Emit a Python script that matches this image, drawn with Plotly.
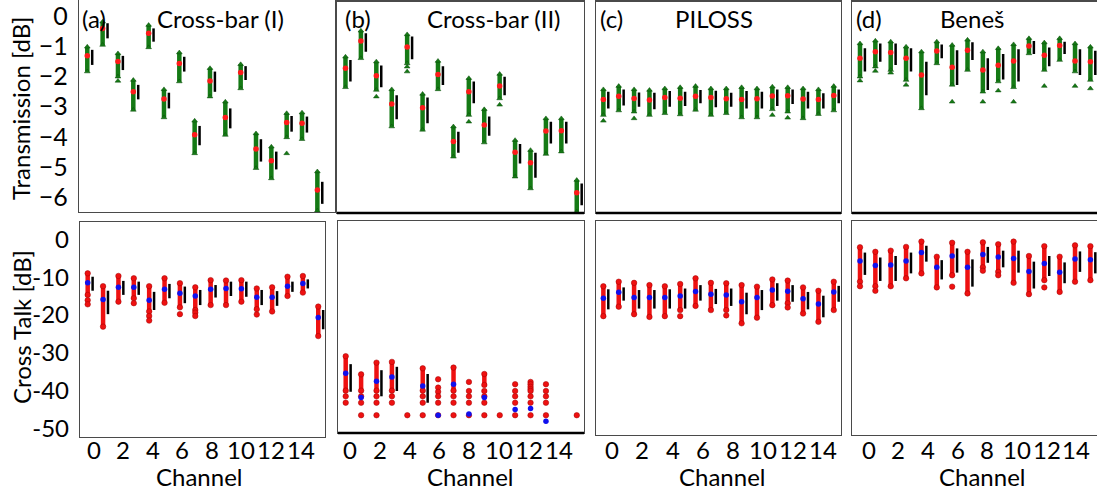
import plotly.graph_objects as go

W, H = 1097, 492
channels = list(range(16))

# ---------------- Transmission [dB] (top row) ----------------
# (a) Cross-bar (I)
ta_mean = [-1.32, -0.41, -1.51, -2.51, -0.57, -2.75, -1.57, -3.93, -2.15, -3.36, -1.87, -4.40, -4.79, -3.53, -3.55, -5.76]
ta_bar_hi = [-1.12, -0.24, -1.32, -2.28, -0.41, -2.54, -1.35, -3.64, -1.84, -3.06, -1.66, -4.08, -4.49, -3.31, -3.33, -5.49]
ta_bar_lo = [-1.62, -0.74, -1.79, -2.76, -0.85, -3.06, -1.84, -4.28, -2.51, -3.72, -2.12, -4.82, -5.08, -3.83, -3.86, -6.22]
ta_hi = [-1.02, -0.19, -1.24, -2.12, -0.30, -2.43, -1.21, -3.47, -1.73, -2.84, -1.60, -3.89, -4.33, -3.22, -3.20, -5.15]
ta_lo = [-1.84, -0.96, -2.01, -3.11, -1.04, -3.36, -2.17, -4.55, -2.67, -3.94, -2.40, -5.04, -5.38, -4.02, -4.08, -6.45]
ta_out = {2: [-2.15], 13: [-4.55]}

# (b) Cross-bar (II)
tb_mean = [-1.73, -0.83, -1.98, -2.91, -1.03, -3.04, -1.94, -4.15, -2.51, -3.61, -2.32, -4.51, -4.86, -3.81, -3.80, -5.85]
tb_bar_hi = [-1.46, -0.57, -1.64, -2.62, -0.68, -2.70, -1.66, -3.83, -2.17, -3.33, -2.01, -4.24, -4.53, -3.50, -3.50, -5.54]
tb_bar_lo = [-2.17, -1.18, -2.36, -3.42, -1.43, -3.55, -2.28, -4.53, -2.89, -3.96, -2.62, -4.88, -5.35, -4.22, -4.22, -6.26]
tb_hi = [-1.35, -0.49, -1.51, -2.43, -0.61, -2.58, -1.49, -3.66, -2.06, -3.09, -1.92, -4.11, -4.44, -3.39, -3.39, -5.43]
tb_lo = [-2.36, -1.40, -2.45, -3.66, -1.57, -3.77, -2.43, -4.66, -3.28, -4.19, -2.73, -5.32, -5.71, -4.57, -4.49, -6.48]
tb_out = {2: [-2.67], 4: [-1.68, -1.84], 8: [-3.50], 10: [-2.94]}

# (c) PILOSS
tc_mean = [-2.76, -2.66, -2.73, -2.78, -2.70, -2.72, -2.66, -2.70, -2.74, -2.76, -2.74, -2.65, -2.64, -2.75, -2.76, -2.63]
tc_bar_hi = [-2.51, -2.43, -2.53, -2.54, -2.48, -2.51, -2.45, -2.47, -2.54, -2.48, -2.51, -2.43, -2.43, -2.51, -2.56, -2.43]
tc_bar_lo = [-3.06, -2.96, -3.00, -3.09, -3.00, -2.98, -2.89, -3.02, -3.00, -3.06, -3.06, -2.98, -2.91, -3.06, -3.06, -2.89]
tc_hi = [-2.43, -2.32, -2.43, -2.45, -2.40, -2.36, -2.32, -2.40, -2.40, -2.36, -2.40, -2.34, -2.36, -2.40, -2.43, -2.32]
tc_lo = [-3.28, -3.13, -3.17, -3.28, -3.22, -3.26, -3.11, -3.28, -3.22, -3.36, -3.36, -3.09, -3.17, -3.39, -3.25, -3.13]
tc_out = {0: [-3.47], 2: [-3.39], 11: [-3.28], 12: [-3.37]}

# (d) Benes
td_mean = [-1.40, -1.18, -1.21, -1.40, -1.95, -1.16, -1.70, -1.13, -1.79, -1.63, -1.49, -0.99, -1.30, -0.98, -1.49, -1.51]
td_bar_hi = [-1.07, -0.91, -0.91, -1.07, -1.51, -0.94, -1.13, -0.87, -1.40, -1.26, -1.10, -0.83, -1.04, -0.85, -1.10, -1.15]
td_bar_lo = [-1.84, -1.51, -1.62, -1.84, -2.62, -1.40, -2.28, -1.46, -2.45, -2.10, -2.17, -1.26, -1.66, -1.26, -1.95, -1.95]
td_hi = [-0.91, -0.82, -0.85, -1.02, -1.18, -0.85, -0.96, -0.79, -1.18, -1.07, -0.94, -0.74, -0.88, -0.74, -0.91, -1.02]
td_lo = [-2.01, -1.68, -1.79, -2.12, -3.06, -1.57, -2.28, -1.79, -2.51, -2.17, -2.36, -1.24, -1.79, -1.46, -1.84, -2.12]
td_out = {0: [-2.14], 1: [-1.82], 2: [-1.88], 3: [-2.28], 6: [-2.84], 8: [-2.84], 9: [-2.47],
          10: [-2.84], 12: [-2.32], 14: [-2.32], 15: [-2.40]}

# ---------------- Cross Talk [dB] (bottom row) ----------------
ba_mean = [-11.5, -15.9, -12.7, -12.7, -16.1, -13.2, -14.3, -15.0, -13.2, -13.0, -13.1, -15.3, -15.3, -12.4, -11.7, -20.7]
ba_bar_hi = [-9.9, -13.6, -11.0, -11.2, -13.9, -11.8, -12.5, -13.4, -12.1, -11.2, -11.2, -13.4, -13.7, -11.2, -10.6, -18.7]
ba_bar_lo = [-13.6, -19.8, -14.7, -14.7, -18.7, -15.6, -16.9, -17.4, -15.4, -15.0, -15.2, -17.4, -17.6, -13.9, -13.0, -23.8]
ba_hi = [-9.0, -12.4, -9.7, -10.3, -12.4, -10.3, -11.6, -12.7, -10.8, -10.9, -10.8, -13.0, -12.7, -9.9, -9.7, -17.8]
ba_lo = [-14.7, -23.1, -16.5, -15.6, -19.1, -16.8, -18.0, -18.7, -17.4, -17.4, -16.5, -18.5, -19.1, -15.0, -14.1, -25.6]
ba_out = {0: [-16.1, -17.2], 3: [-16.9], 4: [-20.3, -21.5], 6: [-19.8], 7: [-19.4, -20.3], 11: [-19.9]}

bb_mean = [-35.4, -41.8, -37.5, -36.4, None, -38.8, -46.5, -38.3, -46.2, -41.8, None, -45.0, -44.7, -48.1, None, None]
bb_bar_hi = [-33.0, None, -34.6, -33.7, None, -35.6, None, None, None, None, None, None, None, None, None, None]
bb_bar_lo = [-40.3, None, -41.5, -40.1, None, -43.2, None, None, None, None, None, None, None, None, None, None]
bb_hi = [-30.9, -35.7, -32.6, -32.4, None, -34.1, None, -33.9, None, -35.6, None, None, None, None, None, None]
bb_lo = [-40.0, -40.0, -40.0, -40.0, None, -40.0, None, -40.0, None, -38.5, None, None, None, None, None, None]
bb_out = {0: [-41.5, -43.2], 1: [-41.5, -43.2, -46.5], 2: [-41.5, -43.2, -46.5], 3: [-41.5, -43.2],
          4: [-46.5], 5: [-41.5, -43.2, -46.5], 6: [-37.0, -39.2, -40.3, -41.5, -43.2, -46.5],
          7: [-41.5, -43.2, -46.5], 8: [-37.7, -40.1, -41.5, -43.2, -46.5], 9: [-40.1, -41.5, -43.2, -46.5],
          10: [-46.5], 11: [-38.3, -40.1, -41.5, -43.2, -46.5],
          12: [-37.7, -38.3, -39.0, -39.6, -40.1, -41.5, -43.2, -46.5],
          13: [-38.3, -40.1, -41.5, -43.2, -46.5], 15: [-46.5]}

bc_mean = [-15.6, -14.0, -15.4, -15.4, -15.4, -15.0, -13.8, -14.5, -14.7, -16.5, -15.4, -13.4, -13.7, -15.7, -17.1, -13.9]
bc_bar_hi = [-13.2, -12.7, -13.4, -13.4, -13.2, -13.0, -12.1, -13.1, -13.0, -14.1, -13.4, -11.6, -12.1, -13.9, -14.9, -12.3]
bc_bar_lo = [-18.5, -16.2, -18.3, -18.3, -18.3, -18.3, -16.2, -17.1, -17.6, -19.8, -18.7, -16.2, -16.5, -18.5, -20.6, -16.5]
bc_hi = [-12.4, -11.2, -11.5, -12.1, -12.4, -11.8, -10.3, -11.5, -11.6, -12.1, -12.5, -10.6, -10.9, -12.7, -13.6, -11.2]
bc_lo = [-20.3, -17.8, -19.8, -20.5, -20.3, -18.7, -17.6, -18.7, -18.7, -22.2, -20.7, -17.4, -16.9, -19.6, -21.8, -18.7]
bc_out = {5: [-20.3], 8: [-20.1], 12: [-18.0]}

bd_mean = [-5.7, -6.9, -6.8, -5.7, -3.5, -7.4, -4.4, -7.4, -4.0, -4.7, -5.1, -8.5, -6.4, -8.7, -5.2, -5.4]
bd_bar_hi = [-3.5, -4.8, -4.4, -3.5, -1.7, -5.5, -2.4, -5.3, -2.0, -3.0, -3.0, -5.9, -4.4, -6.1, -3.2, -3.4]
bd_bar_lo = [-9.4, -11.0, -11.0, -9.0, -5.9, -10.6, -8.8, -12.5, -6.2, -7.4, -8.8, -13.0, -9.7, -11.6, -8.6, -9.0]
bd_hi = [-2.1, -3.3, -3.0, -2.0, -0.6, -4.6, -0.9, -3.3, -0.8, -1.3, -0.6, -4.4, -1.8, -4.6, -1.6, -1.8]
bd_lo = [-11.2, -12.4, -12.4, -10.3, -9.0, -12.7, -9.5, -14.3, -7.4, -8.6, -11.5, -14.5, -10.8, -13.9, -11.2, -10.8]
bd_out = {0: [-12.4], 1: [-13.6], 6: [-12.5], 8: [-8.3], 9: [-9.5], 12: [-12.7]}

titles = ["Cross-bar (I)", "Cross-bar (II)", "PILOSS", "Beneš"]
letters = ["(a)", "(b)", "(c)", "(d)"]
y_top_ticks = [0, -1, -2, -3, -4, -5, -6]
y_top_text = ["0", "−1", "−2", "−3", "−4", "−5", "−6"]
y_bot_ticks = [0, -10, -20, -30, -40, -50]
y_bot_text = ["0", "-10", "-20", "-30", "-40", "-50"]
x_tick_text = ["0", "2", "4", "6", "8", "10", "12", "14"]
# where each panel's channel labels sit along its axis
xt_a = [0.39, 2.32, 4.22, 6.14, 8.09, 10.0, 11.94, 13.86]
xt_b = [0.28, 2.2, 4.17, 6.08, 8.03, 9.95, 11.9, 13.85]
xt_c = [0.59, 2.54, 4.5, 6.47, 8.42, 10.38, 12.35, 14.3]
xt_d = [0.6, 2.5, 4.45, 6.37, 8.3, 10.22, 12.15, 14.05]

FONT = "Lato"
BAR_OFF = 0.32

panels = [
    dict(data=(ta_hi, ta_lo, ta_mean, ta_bar_hi, ta_bar_lo, ta_out), row="top", box=(79, 335, 0, 212),
         xr=(-0.54, 16.15), yr=(-6.49, 0.53), ylab=True, thick=False),
    dict(data=(tb_hi, tb_lo, tb_mean, tb_bar_hi, tb_bar_lo, tb_out), row="top", box=(337, 584, 1.5, 213),
         xr=(-0.55, 15.47), yr=(-6.52, 0.48), ylab=False, thick=True),
    dict(data=(tc_hi, tc_lo, tc_mean, tc_bar_hi, tc_bar_lo, tc_out), row="top", box=(596, 841, 1.5, 213),
         xr=(-0.48, 15.47), yr=(-6.52, 0.48), ylab=False, thick=True),
    dict(data=(td_hi, td_lo, td_mean, td_bar_hi, td_bar_lo, td_out), row="top", box=(852, 1097, 1.5, 213),
         xr=(-0.52, 15.43), yr=(-6.52, 0.48), ylab=False, thick=True, cut=True),
    dict(data=(ba_hi, ba_lo, ba_mean, ba_bar_hi, ba_bar_lo, ba_out), row="bot", box=(80, 325, 222, 437),
         xr=(-0.5, 15.44), yr=(-52.3, 4.58), ylab=True, thick=False, xt=xt_a),
    dict(data=(bb_hi, bb_lo, bb_mean, bb_bar_hi, bb_bar_lo, bb_out), row="bot", box=(338, 584, 221, 433),
         xr=(-0.5, 15.47), yr=(-51.2, 4.84), ylab=False, thick=True, xt=xt_b),
    dict(data=(bc_hi, bc_lo, bc_mean, bc_bar_hi, bc_bar_lo, bc_out), row="bot", box=(596, 841, 221, 435),
         xr=(-0.48, 15.47), yr=(-51.7, 4.84), ylab=False, thick=False, xt=xt_c),
    dict(data=(bd_hi, bd_lo, bd_mean, bd_bar_hi, bd_bar_lo, bd_out), row="bot", box=(852, 1097, 221, 435),
         xr=(-0.52, 15.43), yr=(-51.7, 4.84), ylab=False, thick=False, cut=True, xt=xt_d),
]

fig = go.Figure()
layout = dict(template="none", width=W, height=H, margin=dict(l=0, r=0, t=0, b=0, pad=0),
              paper_bgcolor="white", plot_bgcolor="white", showlegend=False,
              font=dict(family=FONT, color="black"))
shapes = []
annotations = []

for k, p in enumerate(panels, start=1):
    xa = "x" if k == 1 else f"x{k}"
    ya = "y" if k == 1 else f"y{k}"
    hi, lo, mean, bhi, blo, outs = p["data"]
    top = p["row"] == "top"
    col = "#157a15" if top else "#ee1111"
    edge = "#0b4d0b" if top else "#a00000"
    sym = "triangle-up" if top else "circle"
    mcol = "#ff1a1a" if top else "#1010ee"

    xs, ys = [], []
    for c in channels:
        if hi[c] is None:
            continue
        xs += [c, c, None]
        ys += [hi[c], lo[c], None]
    fig.add_trace(go.Scatter(x=xs, y=ys, mode="lines", line=dict(color=col, width=4.5),
                             xaxis=xa, yaxis=ya, hoverinfo="skip"))
    mx, my = [], []
    for c in channels:
        if hi[c] is not None:
            mx += [c, c]
            my += [hi[c], lo[c]]
        for v in outs.get(c, []):
            mx.append(c)
            my.append(v)
    fig.add_trace(go.Scatter(x=mx, y=my, mode="markers",
                             marker=dict(symbol=sym, size=5 if top else 5.5, color=col,
                                         line=dict(width=0.5, color=edge)),
                             xaxis=xa, yaxis=ya, hoverinfo="skip"))
    ex = [c for c in channels if mean[c] is not None]
    ey = [mean[c] for c in ex]
    fig.add_trace(go.Scatter(x=ex, y=ey, mode="markers",
                             marker=dict(symbol="circle", size=5.5, color=mcol, line=dict(width=0)),
                             xaxis=xa, yaxis=ya, hoverinfo="skip"))
    bx, by = [], []
    for c in channels:
        if bhi[c] is None:
            continue
        bx += [c + BAR_OFF, c + BAR_OFF, None]
        by += [bhi[c], blo[c], None]
    fig.add_trace(go.Scatter(x=bx, y=by, mode="lines", line=dict(color="black", width=2.5),
                             xaxis=xa, yaxis=ya, hoverinfo="skip"))

    x0, x1, y0, y1 = p["box"]
    xd = [x0 / W, min(1.0, x1 / W)]
    yd = [1 - y1 / H, min(1.0, 1 - y0 / H)]
    cut = p.get("cut", False)
    xax = dict(domain=xd, range=list(p["xr"]), anchor=ya, showgrid=False, zeroline=False,
               showline=True, mirror=True, linecolor="#4a4a4a", linewidth=1.2, ticks="",
               showticklabels=False, automargin=False, fixedrange=True)
    yax = dict(domain=yd, range=list(p["yr"]), anchor=xa, showgrid=False, zeroline=False,
               showline=True, mirror=not cut, linecolor="#4a4a4a", linewidth=1.2, ticks="",
               automargin=False, fixedrange=True)
    if p["ylab"]:
        yax.update(tickmode="array",
                   tickvals=y_top_ticks if top else y_bot_ticks,
                   ticktext=y_top_text if top else y_bot_text,
                   tickfont=dict(family=FONT, size=25 if top else 24, color="black"),
                   ticklabelstandoff=5, ticklabeloverflow="allow")
    else:
        yax.update(showticklabels=False)
    layout["xaxis" if k == 1 else f"xaxis{k}"] = xax
    layout["yaxis" if k == 1 else f"yaxis{k}"] = yax
    if p["thick"]:
        shapes.append(dict(type="line", xref=f"{xa} domain", yref=f"{ya} domain",
                           x0=0, x1=1, y0=0, y1=0, line=dict(color="black", width=2.5)))
    if not top:
        for tv, tt in zip(p["xt"], x_tick_text):
            annotations.append(dict(text=tt, x=tv, xref=xa, y=1 - 449 / H, yref="paper",
                                    xanchor="center", yanchor="middle", showarrow=False,
                                    font=dict(family=FONT, size=24, color="black")))

title_pos = [(220, 19), (494, 18), (714, 19), (972, 19)]
letter_pos = [(94, 19), (358, 18), (611, 19), (869, 19)]
for t, (px, py) in zip(titles, title_pos):
    annotations.append(dict(text=t, x=px / W, y=1 - py / H, xref="paper", yref="paper",
                            xanchor="center", yanchor="middle", showarrow=False,
                            font=dict(family=FONT, size=24, color="black")))
for t, (px, py) in zip(letters, letter_pos):
    annotations.append(dict(text=t, x=px / W, y=1 - py / H, xref="paper", yref="paper",
                            xanchor="center", yanchor="middle", showarrow=False,
                            font=dict(family=FONT, size=24, color="black")))
annotations.append(dict(text="Transmission [dB]", x=20 / W, y=1 - 109 / H, xref="paper", yref="paper",
                        xanchor="center", yanchor="middle", textangle=-90, showarrow=False,
                        font=dict(family=FONT, size=24, color="black")))
annotations.append(dict(text="Cross Talk [dB]", x=21 / W, y=1 - 327 / H, xref="paper", yref="paper",
                        xanchor="center", yanchor="middle", textangle=-90, showarrow=False,
                        font=dict(family=FONT, size=24, color="black")))
for px in [199, 470, 722, 982]:
    annotations.append(dict(text="Channel", x=px / W, y=1 - 476 / H, xref="paper", yref="paper",
                            xanchor="center", yanchor="middle", showarrow=False,
                            font=dict(family=FONT, size=24, color="black")))

layout["shapes"] = shapes
layout["annotations"] = annotations
fig.update_layout(**layout)
fig.write_html("out.html", config={"displayModeBar": False, "staticPlot": True},
               post_script="document.body.style.margin='0';document.body.style.overflow='hidden';")
